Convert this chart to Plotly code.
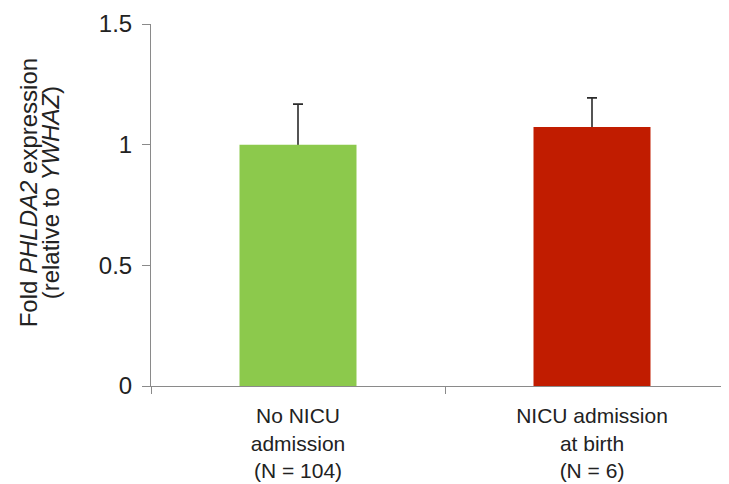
import plotly.graph_objects as go

categories = ["No NICU<br>admission<br>(N = 104)", "NICU admission<br>at birth<br>(N = 6)"]
values = [1.0, 1.073]
errors_up = [0.168, 0.121]
bar_colors = ["#8CC94C", "#C11C00"]
y_ticks = [0, 0.5, 1, 1.5]
y_tick_labels = ["0", "0.5", "1", "1.5"]
y_title_lines = ["Fold <i>PHLDA2</i> expression", "(relative to <i>YWHAZ</i>)"]

FONT = "Liberation Sans, Arial, sans-serif"
TXT = "#222222"
AXIS = "#8a8a8a"
PAGE = 8            # default body margin of the html page
L, W = 151 - PAGE, 578
CAT = 294           # pixels per category

fig = go.Figure()
# error bars (lower end hidden inside the bars drawn on top)
fig.add_trace(go.Bar(
    x=categories, y=values, width=117 / CAT,
    marker=dict(color="rgba(0,0,0,0)", line=dict(width=0)),
    error_y=dict(type="data", symmetric=False, array=errors_up,
                 arrayminus=[0.05] * len(values),
                 color="#2b2b2b", thickness=1.6, width=5),
    hoverinfo="skip", showlegend=False,
))
fig.add_trace(go.Bar(
    x=categories, y=values, width=117 / CAT,
    marker=dict(color=bar_colors, line=dict(width=0)),
    showlegend=False,
))

for text, px in zip(y_title_lines, [28 - PAGE, 50 - PAGE]):
    fig.add_annotation(
        text=text, textangle=-90, showarrow=False,
        xref="paper", yref="paper", x=(px - L) / W, y=0.535,
        xanchor="center", yanchor="middle",
        font=dict(family=FONT, size=24, color=TXT),
    )

fig.update_layout(
    width=729 - PAGE, height=484 - PAGE,
    barmode="overlay",
    plot_bgcolor="white", paper_bgcolor="white",
    margin=dict(l=L, r=0, t=24 - PAGE, b=98, autoexpand=False),
    font=dict(family=FONT, size=22, color=TXT),
    xaxis=dict(
        type="category", range=[-0.5, -0.5 + W / CAT],
        showgrid=False, zeroline=False, automargin=False,
        showline=True, linecolor=AXIS, linewidth=1,
        ticks="outside", tickson="boundaries", ticklen=7, tickcolor=AXIS,
        tickfont=dict(size=21, color=TXT),
        ticklabelstandoff=11,
    ),
    yaxis=dict(
        range=[0, 1.5], tickvals=y_ticks, ticktext=y_tick_labels,
        showgrid=False, zeroline=False, automargin=False,
        showline=True, linecolor=AXIS, linewidth=1,
        ticks="outside", ticklen=8, tickcolor=AXIS,
        tickfont=dict(size=24, color=TXT),
        ticklabelstandoff=5,
    ),
)

fig.write_html("out.html")
